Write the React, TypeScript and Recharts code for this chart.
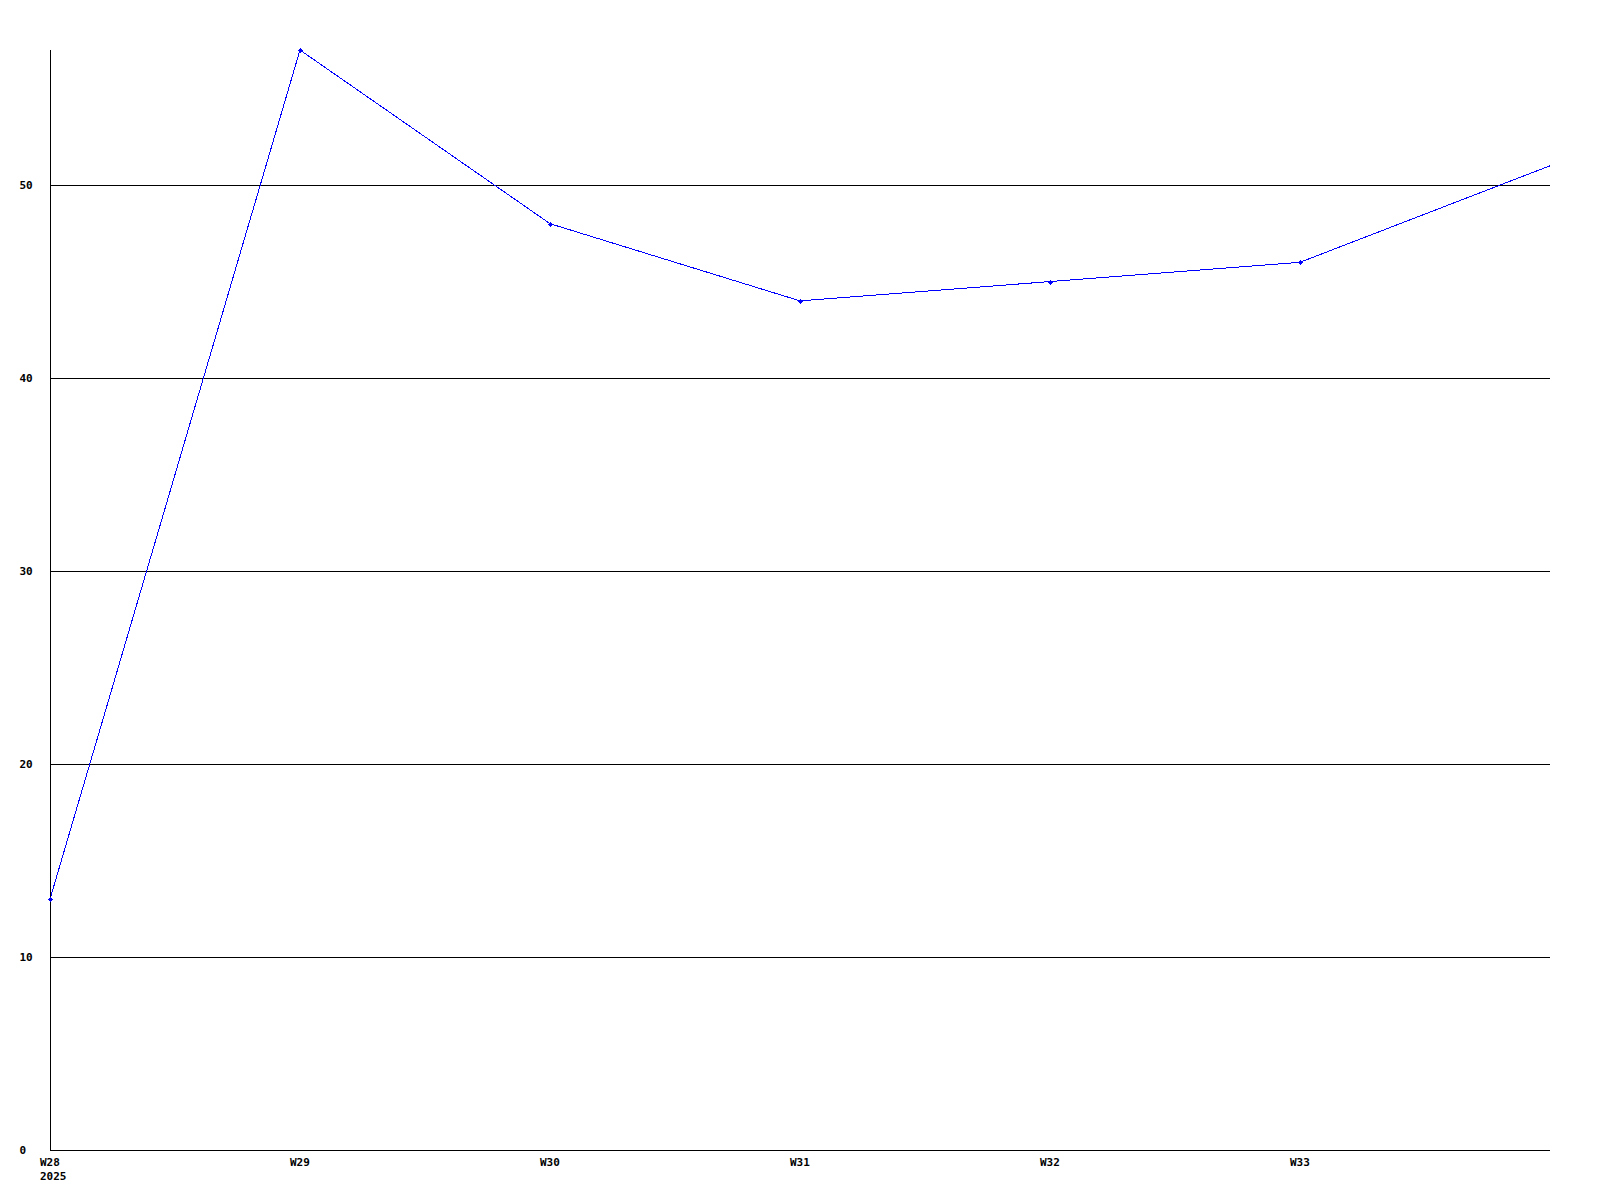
import React from "react";
import { LineChart, Line, XAxis, YAxis, CartesianGrid } from "recharts";

const weeks = ["W28", "W29", "W30", "W31", "W32", "W33", "W34"];
const weekLabels = ["W28", "W29", "W30", "W31", "W32", "W33", ""];
const yearLabels = ["2025", "", "", "", "", "", ""];
const values = [13, 57, 48, 44, 45, 46, 51];
const showMarker = [true, true, true, true, true, true, false];
const yTicks = [0, 10, 20, 30, 40, 50];
const gridValues = [10, 20, 30, 40, 50];

const data = weeks.map((w, i) => ({ week: w, value: values[i] }));

const FONT = "'DejaVu Sans Mono', monospace";

const XTick = (props: any) => {
  const { x, payload } = props;
  const i = weeks.indexOf(payload.value);
  const l1 = weekLabels[i] ?? "";
  const l2 = yearLabels[i] ?? "";
  return (
    <g>
      <text x={x - 10} y={1166} textAnchor="start" fontFamily={FONT} fontWeight="bold" fontSize={11} fill="#000">
        {l1}
      </text>
      {l2 ? (
        <text x={x - 10} y={1180} textAnchor="start" fontFamily={FONT} fontWeight="bold" fontSize={11} fill="#000">
          {l2}
        </text>
      ) : null}
    </g>
  );
};

const YTick = (props: any) => {
  const { y, payload } = props;
  return (
    <text x={19.5} y={y + 4} textAnchor="start" fontFamily={FONT} fontWeight="bold" fontSize={11} fill="#000">
      {payload.value}
    </text>
  );
};

const Dot = (props: any) => {
  const { cx, cy, index } = props;
  if (cx == null || cy == null || !showMarker[index]) return <g />;
  const x = Math.round(cx);
  const y = Math.round(cy);
  return (
    <g shapeRendering="crispEdges" fill="#0000ff">
      <rect x={x - 1} y={y - 1} width={3} height={3} />
      <rect x={x - 2} y={y} width={5} height={1} />
      <rect x={x} y={y - 2} width={1} height={5} />
    </g>
  );
};

export default function App() {
  return (
    <div style={{ position: "absolute", left: 0, top: 0, width: 1600, height: 1200, background: "#fff" }}>
      <LineChart
        width={1600}
        height={1200}
        data={data}
        margin={{ top: 50, right: 50, bottom: 0, left: 0 }}
      >
        <CartesianGrid
          horizontal={true}
          vertical={false}
          horizontalValues={gridValues}
          stroke="#000"
          strokeWidth={1}
          shapeRendering="crispEdges"
        />
        <XAxis
          dataKey="week"
          type="category"
          height={50}
          axisLine={{ stroke: "#000", strokeWidth: 1, shapeRendering: "crispEdges" }}
          tickLine={false}
          interval={0}
          tick={<XTick />}
        />
        <YAxis
          width={50}
          domain={[0, 57]}
          ticks={yTicks}
          axisLine={{ stroke: "#000", strokeWidth: 1, shapeRendering: "crispEdges" }}
          tickLine={false}
          interval={0}
          tick={<YTick />}
        />
        <Line
          type="linear"
          dataKey="value"
          stroke="#0000ff"
          strokeWidth={1}
          shapeRendering="crispEdges"
          dot={<Dot />}
          activeDot={false}
          isAnimationActive={false}
        />
      </LineChart>
    </div>
  );
}
